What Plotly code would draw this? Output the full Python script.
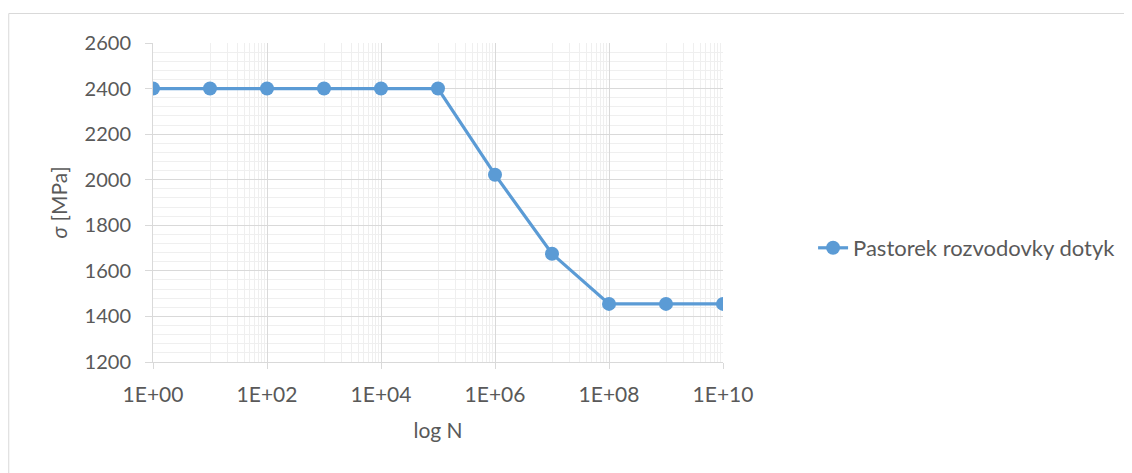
import plotly.graph_objects as go

# Data
cycles = [1e0, 1e1, 1e2, 1e3, 1e4, 1e5, 1e6, 1e7, 1e8, 1e9, 1e10]
stress = [2400, 2400, 2400, 2400, 2400, 2400, 2022, 1675, 1455, 1455, 1455]
series_name = "Pastorek rozvodovky dotyk"
x_tick_vals = [1e0, 1e2, 1e4, 1e6, 1e8, 1e10]
x_tick_text = ["1E+00", "1E+02", "1E+04", "1E+06", "1E+08", "1E+10"]
x_minor_vals = [k * 10 * m for m in [1e0, 1e2, 1e4, 1e6, 1e8] for k in range(1, 10)]

# page has an 8px body margin; figure coords = page coords - 8
W, H = 1124, 465
L, T = 145, 35
pw, ph = 571, 319
R, B = W - L - pw, H - T - ph

FONT = "Lato"
TXT = "#595959"
BLUE = "#5B9BD5"

fig = go.Figure()
fig.add_trace(go.Scatter(
    x=cycles, y=stress, mode="lines+markers", name=series_name,
    line=dict(color=BLUE, width=3.2),
    marker=dict(color=BLUE, size=14),
))

def px_x(p):
    return (p - L) / pw

def px_y(p):
    return 1 - (p - T) / ph

fig.add_shape(type="rect", xref="paper", yref="paper",
              x0=px_x(0.5), x1=px_x(1140), y0=px_y(480), y1=px_y(5.5),
              line=dict(color="#d9d9d9", width=1), fillcolor="rgba(0,0,0,0)", layer="below")

fig.update_layout(
    width=W, height=H,
    margin=dict(l=L, r=R, t=T, b=B),
    paper_bgcolor="white", plot_bgcolor="white",
    font=dict(family=FONT, size=20, color=TXT),
    showlegend=True,
    legend=dict(x=1.156, y=px_y(240), xanchor="left", yanchor="middle",
                font=dict(family=FONT, size=22, color=TXT), bgcolor="rgba(0,0,0,0)"),
    xaxis=dict(
        type="log", range=[0, 10],
        tickmode="array", tickvals=x_tick_vals, ticktext=x_tick_text,
        showgrid=True, gridcolor="#d9d9d9", gridwidth=1,
        showline=True, linecolor="#d9d9d9", linewidth=1,
        ticks="outside", ticklen=6, tickcolor="#d9d9d9",
        minor=dict(tickmode="array", tickvals=x_minor_vals, showgrid=True,
                   gridcolor="#efefef", gridwidth=1, ticks=""),
        title=dict(text="log N", font=dict(family=FONT, size=21, color=TXT), standoff=18),
        tickfont=dict(family=FONT, size=21, color=TXT),
        ticklabelstandoff=8,
        zeroline=False,
    ),
    yaxis=dict(
        range=[1200, 2600], dtick=200, tick0=1200,
        showgrid=True, gridcolor="#d9d9d9", gridwidth=1,
        showline=True, linecolor="#d9d9d9", linewidth=1,
        ticks="outside", ticklen=7, tickcolor="#d9d9d9",
        minor=dict(dtick=40, tick0=1200, showgrid=True, gridcolor="#efefef", gridwidth=1, ticks=""),
        title=dict(text="<i>σ</i> [MPa]", font=dict(family=FONT, size=21, color=TXT), standoff=11),
        tickfont=dict(family=FONT, size=20, color=TXT),
        ticklabelstandoff=10,
        zeroline=False,
    ),
)

fig.write_html("out.html")
